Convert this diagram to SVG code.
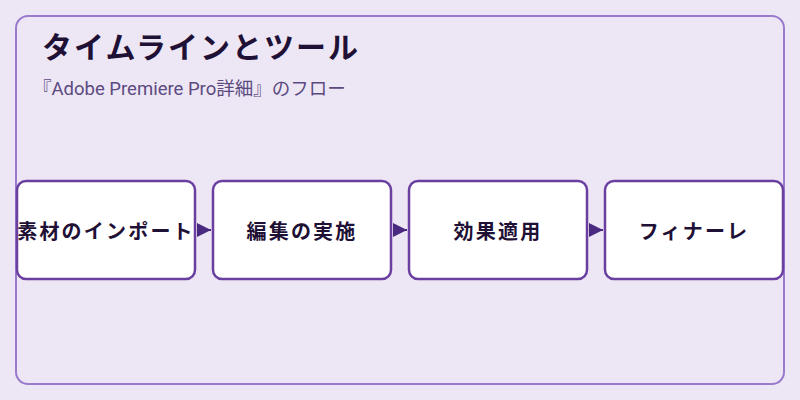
<svg xmlns="http://www.w3.org/2000/svg" width="800" height="400" viewBox="0 0 800 400">
<style>
.title{font-family:"Noto Sans CJK JP","Noto Sans",sans-serif;font-weight:700;font-size:30px;fill:#1f1035;letter-spacing:2px}
.sub{font-family:"Roboto","Noto Sans CJK JP",sans-serif;font-size:18.5px;fill:#5b4a80}
.node rect{fill:#ffffff;stroke:#6b3fa0;stroke-width:2.5}
.node text{font-family:"Noto Sans CJK JP","Noto Sans",sans-serif;font-weight:700;font-size:20px;fill:#1f1035;text-anchor:middle;dominant-baseline:central;letter-spacing:2.2px}
.conn line{stroke:#4a2a80;stroke-width:2}
</style>
<defs>
<marker id="ah" viewBox="0 0 10 10" refX="10" refY="5" markerWidth="7" markerHeight="7" markerUnits="strokeWidth" orient="auto">
<path d="M0,0 L10,5 L0,10 z" fill="#4a2a80"/>
</marker>
</defs>
<rect width="800" height="400" fill="#ede6f5"/>
<rect x="16" y="16" width="768" height="368" rx="12" fill="#ede6f5" stroke="#9a7acc" stroke-width="2"/>
<text class="title" x="42" y="58">タイムラインとツール</text>
<text class="sub" x="33" y="95">『Adobe Premiere Pro詳細』のフロー</text>
<g class="conn">
<line x1="197" y1="230" x2="211" y2="230" marker-end="url(#ah)"/>
<line x1="393" y1="230" x2="407" y2="230" marker-end="url(#ah)"/>
<line x1="589" y1="230" x2="603" y2="230" marker-end="url(#ah)"/>
</g>
<g id="node1" class="node"><rect x="17" y="181" width="178" height="98" rx="9"/><text x="106" y="230">素材のインポート</text></g>
<g id="node2" class="node"><rect x="213" y="181" width="178" height="98" rx="9"/><text x="302" y="230">編集の実施</text></g>
<g id="node3" class="node"><rect x="409" y="181" width="178" height="98" rx="9"/><text x="498" y="230">効果適用</text></g>
<g id="node4" class="node"><rect x="605" y="181" width="178" height="98" rx="9"/><text x="694" y="230">フィナーレ</text></g>
</svg>
